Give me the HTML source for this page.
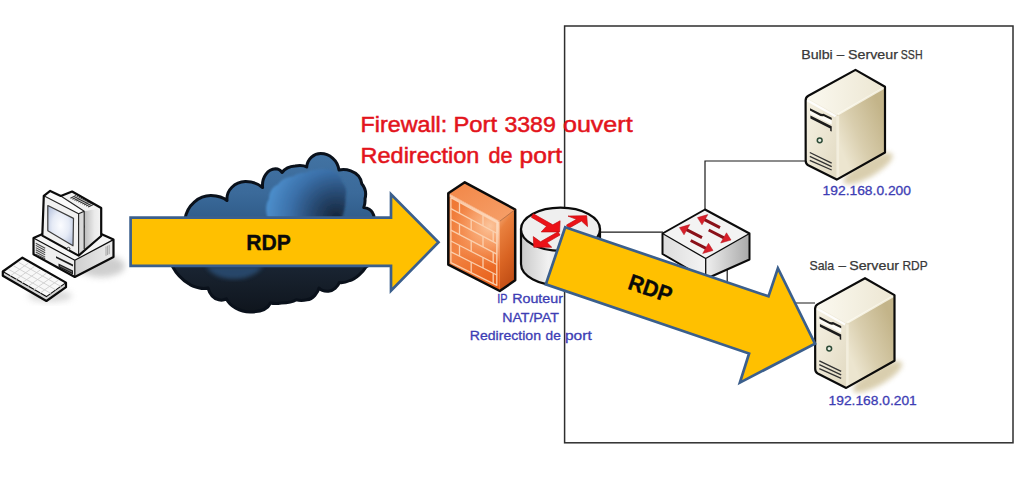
<!DOCTYPE html>
<html>
<head>
<meta charset="utf-8">
<title>RDP - Redirection de port</title>
<style>
  html, body { margin: 0; padding: 0; background: #ffffff; }
  body { width: 1022px; height: 494px; overflow: hidden; font-family: "Liberation Sans", sans-serif; }
  svg { display: block; }
  text { font-family: "Liberation Sans", sans-serif; }
</style>
</head>
<body>
<svg width="1022" height="494" viewBox="0 0 1022 494">
  <defs>
    <!-- cloud -->
    <linearGradient id="gCloud" gradientUnits="userSpaceOnUse" x1="0" y1="153" x2="0" y2="312">
      <stop offset="0" stop-color="#4273a3"/>
      <stop offset="0.25" stop-color="#3b6a9a"/>
      <stop offset="0.41" stop-color="#305d8b"/>
      <stop offset="0.70" stop-color="#1a2533"/>
      <stop offset="1" stop-color="#0f151d"/>
    </linearGradient>
    <radialGradient id="gCloudHi" gradientUnits="userSpaceOnUse" cx="336" cy="217" r="74">
      <stop offset="0" stop-color="#16263c"/>
      <stop offset="0.3" stop-color="#26476e"/>
      <stop offset="0.62" stop-color="#3a6fa8"/>
      <stop offset="1" stop-color="#5094d2"/>
    </radialGradient>
    <filter id="blur1" x="-20%" y="-20%" width="140%" height="140%"><feGaussianBlur stdDeviation="0.9"/></filter>
    <filter id="blur25" x="-30%" y="-60%" width="160%" height="220%"><feGaussianBlur stdDeviation="2.5"/></filter>
    <filter id="blur2" x="-20%" y="-20%" width="140%" height="140%"><feGaussianBlur stdDeviation="2"/></filter>
    <filter id="blur3" x="-30%" y="-30%" width="160%" height="160%"><feGaussianBlur stdDeviation="3"/></filter>
    <filter id="blur5" x="-30%" y="-30%" width="160%" height="160%"><feGaussianBlur stdDeviation="4.5"/></filter>

    <!-- firewall -->
    <linearGradient id="gFwFront" gradientUnits="userSpaceOnUse" x1="447" y1="200" x2="499" y2="285">
      <stop offset="0" stop-color="#ef7733"/>
      <stop offset="0.5" stop-color="#f28444"/>
      <stop offset="1" stop-color="#e75d16"/>
    </linearGradient>
    <radialGradient id="gFwGlow" gradientUnits="userSpaceOnUse" cx="490" cy="226" r="40">
      <stop offset="0" stop-color="#fdd0ab" stop-opacity="0.85"/>
      <stop offset="0.5" stop-color="#fbb585" stop-opacity="0.55"/>
      <stop offset="1" stop-color="#f79a62" stop-opacity="0"/>
    </radialGradient>
    <linearGradient id="gFwEdge" gradientUnits="userSpaceOnUse" x1="0" y1="221" x2="0" y2="264">
      <stop offset="0" stop-color="#fde0c8" stop-opacity="0.8"/>
      <stop offset="1" stop-color="#fde0c8" stop-opacity="0"/>
    </linearGradient>
    <linearGradient id="gFwTop" x1="0" y1="0" x2="1" y2="1">
      <stop offset="0" stop-color="#f28646"/>
      <stop offset="1" stop-color="#f6a06a"/>
    </linearGradient>
    <linearGradient id="gFwSide" x1="0" y1="0" x2="0.25" y2="1">
      <stop offset="0" stop-color="#f7b283"/>
      <stop offset="0.25" stop-color="#e9803e"/>
      <stop offset="0.65" stop-color="#d96423"/>
      <stop offset="1" stop-color="#c24f16"/>
    </linearGradient>

    <!-- router / switch -->
    <linearGradient id="gCyl" x1="0" y1="0" x2="1" y2="0">
      <stop offset="0" stop-color="#c9c9c9"/>
      <stop offset="0.35" stop-color="#f2f2f2"/>
      <stop offset="1" stop-color="#b5b5b5"/>
    </linearGradient>
    <linearGradient id="gSwL" x1="0" y1="0" x2="1" y2="0">
      <stop offset="0" stop-color="#dcdcdc"/>
      <stop offset="1" stop-color="#f4f4f4"/>
    </linearGradient>
    <linearGradient id="gSwR" x1="0" y1="0" x2="1" y2="0">
      <stop offset="0" stop-color="#efefef"/>
      <stop offset="1" stop-color="#a9a9a9"/>
    </linearGradient>

    <!-- server -->
    <linearGradient id="gSrvFront" x1="0" y1="0" x2="1" y2="1">
      <stop offset="0" stop-color="#f6f2e4"/>
      <stop offset="1" stop-color="#e2dac2"/>
    </linearGradient>
    <linearGradient id="gSrvSide" gradientUnits="userSpaceOnUse" x1="838" y1="142" x2="886" y2="122">
      <stop offset="0" stop-color="#ece5cf"/>
      <stop offset="0.4" stop-color="#d9ceae"/>
      <stop offset="1" stop-color="#c3b489"/>
    </linearGradient>
    <linearGradient id="gSrvTop" x1="0" y1="0" x2="1" y2="0">
      <stop offset="0" stop-color="#fbf9f0"/>
      <stop offset="1" stop-color="#ece6d2"/>
    </linearGradient>

    <linearGradient id="gBaseR" x1="0" y1="0" x2="1" y2="0">
      <stop offset="0" stop-color="#cfcfcf"/>
      <stop offset="1" stop-color="#ececec"/>
    </linearGradient>
    <linearGradient id="gMonR" x1="0" y1="0" x2="1" y2="0">
      <stop offset="0" stop-color="#bcbcbc"/>
      <stop offset="0.6" stop-color="#eaeaea"/>
      <stop offset="1" stop-color="#f4f4f4"/>
    </linearGradient>
    <!-- monitor screen -->
    <radialGradient id="gScreen" cx="0.5" cy="0.5" r="0.65">
      <stop offset="0" stop-color="#fbfcff"/>
      <stop offset="0.5" stop-color="#e6ebf6"/>
      <stop offset="1" stop-color="#b3c0dc"/>
    </radialGradient>

    <!-- server symbol (coordinates of server 1) -->
    <g id="server">
      <ellipse cx="868" cy="168.5" rx="28" ry="8.5" transform="rotate(-30 868 168.5)" fill="#d3c6a0" opacity="0.85" filter="url(#blur25)"/>
      <polygon points="805.6,97.4 855.5,69.9 885,86.8 836.7,114.8" fill="url(#gSrvTop)"/>
      <polygon points="836.7,114.8 885,86.8 885,152.5 836.7,179.6" fill="url(#gSrvSide)"/>
      <path d="M805.6,100.5 Q805.6,96.8 809,99 L836.7,114.8 L836.7,179.6 L808.2,165.2 Q805.7,163.8 805.7,160.8 Z" fill="url(#gSrvFront)"/>
      <!-- bevel highlights -->
      <path d="M807.2,100.2 L835.6,116.2" stroke="#ffffff" stroke-width="2.4" fill="none" opacity="0.9"/>
      <path d="M837.6,114.6 L884,87.8" stroke="#fffdf4" stroke-width="2" fill="none" opacity="0.75"/>
      <path d="M838,116 L838,178" stroke="#f7f2e2" stroke-width="2.4" fill="none" opacity="0.7"/>
      <!-- drive slots -->
      <path d="M810,108.3 L818.5,112.6 Q821,114.4 823.5,113.8 L831.7,117.8 L831.7,120 L823.8,116.2 Q821,116.8 818.5,115 L810,110.5 Z" fill="#1c1c1c"/>
      <path d="M810,110.9 L818.5,115.4 Q821,117.2 823.8,116.6 L831.7,120.4 L831.7,124.4 L810,113.8 Z" fill="#fefdf9"/>
      <path d="M810.4,115.6 L831.7,126.2 L831.7,131.6 L830.2,130.9 L830.2,128.4 L810.4,118.4 Z" fill="#1c1c1c"/>
      <!-- button -->
      <circle cx="819.7" cy="140.3" r="2.4" fill="#e9efe4" stroke="#2c4a36" stroke-width="1.5"/>
      <!-- vents -->
      <path d="M809.8,152.5 L831.7,163.1 M809.8,156.4 L831.7,166.6 M809.8,160.3 L831.7,170" stroke="#333" stroke-width="1.35" fill="none"/>
      <!-- outline -->
      <path d="M805.6,100.5 Q805.6,97.4 808.4,95.8 L855.5,69.9 L885,86.8 L885,152.5 L836.7,179.6 L808.2,165.2 Q805.7,163.8 805.7,160.8 Z" fill="none" stroke="#0b0b0b" stroke-width="2.2" stroke-linejoin="round"/>
    </g>
  </defs>

  <rect x="0" y="0" width="1022" height="494" fill="#ffffff"/>

  <!-- LAN box -->
  <rect x="564.6" y="26" width="448.4" height="416.8" fill="none" stroke="#2e2e2e" stroke-width="1.5"/>

  <!-- connection lines -->
  <g fill="none" stroke="#1a1a1a" stroke-width="1.2">
    <path d="M598,232.2 L663,232.2"/>
    <path d="M705,210 L705,161 L806,161"/>
    <path d="M727.2,266 L727.2,303 L815,303"/>
  </g>

  <!-- ============ CLOUD ============ -->
  <g id="cloud">
    <path id="cloudShape" d="M185,219
      C187,205 199,195.5 211,195.6 C219,196 224,198 227,200.5
      C226,190 235,182 245.3,181.6 C252,181.5 258,183.5 262.6,187.5
      C261.5,177 268,169 275.5,168.7 C278.5,168.7 280.5,170 282,172.5
      C285,168.5 290,166.3 295,166 C300,165.3 304,165.5 306.7,167
      C307.5,158.5 314,153.6 320.7,153.6 C329.5,153.6 337.5,160 339,170
      C343,169 347,169.5 350.8,170.8 C357,173 361,178 361.8,183.8 C365.3,188 366.3,194 365,198.8 C365.3,202 364.7,205 363.8,207.6
      C368,208.2 371,210 372.6,212.8 C373.8,214.5 374.2,216.5 374,219
      L374,262 L366,267
      C363,272 355.5,279.2 350,280.5 C346,282.3 342,283.2 339.4,282.6
      C338,286.5 333,291 328.6,291.2 C324,291.6 321,290.3 319,288
      C318,292.5 313,299.2 307,299.8 C303,300.7 299,300.6 296.3,299.8
      C294,301.3 288,303 281.3,303 C277,303.7 273,303.6 270.5,303
      C268,308.3 262,312 250,312 C240,312 230,306.2 226.4,298.8
      C224,300.2 221,300.4 218.8,299.8 C214,298.8 210,295 208,288
      C205,288.7 202,288.6 199.4,288 C194,287 190.5,285.3 188.7,283.7 C182.5,280 176,273 172.5,266.5
      L172.5,262 Z"
      fill="url(#gCloud)" stroke="#0a111b" stroke-width="3" stroke-linejoin="round"/>
    <!-- lighter inner puff -->
    <path d="M268,219 C265,210 266,203 269,199 C269,192 273,186 278,184.5 C281,179.5 288,176.5 293,176.5 C297,173.5 302,172.5 306,172.5 C312,169.5 322,168.5 330,170 C337,172 341,177 342,182 C346,186 347,192 345.5,197 C346,205 344,213 341.5,219 Z"
      fill="url(#gCloudHi)" filter="url(#blur1)"/>
    <!-- blue glow just under the arrow -->
    <path d="M206,266 C210,274 222,279.5 234,279 C246,279.5 258,274 263,266 Z" fill="#2d5782" opacity="0.7" filter="url(#blur2)"/>
  </g>

  <!-- ============ COMPUTER ============ -->
  <g id="pc" stroke-linejoin="round">
    <!-- shadows -->
    <ellipse cx="101" cy="266" rx="24" ry="11" fill="#c6c6c6" opacity="0.85" filter="url(#blur3)"/>
    <ellipse cx="50" cy="296" rx="22" ry="6" fill="#d0d0d0" opacity="0.8" filter="url(#blur3)"/>
    <!-- CPU base -->
    <polygon points="33.5,238 72,221 113.5,239.6 74.8,260.3" fill="#f6f6f6"/>
    <polygon points="33.5,238 74.8,260.3 74.8,277 33.5,254.2" fill="#eeeeee"/>
    <polygon points="74.8,260.3 113.5,239.6 113.5,257 74.8,277" fill="url(#gBaseR)"/>
    <path d="M33.5,238 L72,221 L113.5,239.6 L113.5,257 L74.8,277 L33.5,254.2 Z" fill="none" stroke="#0b0b0b" stroke-width="2.2"/>
    <path d="M33.5,238 L74.8,260.3 L113.5,239.6 M74.8,260.3 L74.8,277" fill="none" stroke="#0b0b0b" stroke-width="1.2"/>
    <!-- base vents (left) -->
    <path d="M35.8,243.2 L45.2,248.3 M35.8,245.4 L45.2,250.5 M35.8,247.6 L45.2,252.7 M35.8,249.8 L45.2,254.9 M35.8,252 L45.2,257.1 M35.8,254.2 L45.2,258.8" stroke="#4a4a4a" stroke-width="1.05" fill="none"/>
    <!-- drive slots -->
    <polygon points="56,256.3 73,264.6 73,266.4 56,258.1" fill="#1d1d1d"/>
    <polygon points="58.5,263.4 73,270.6 73,274.4 58.5,267.2" fill="#1d1d1d"/>
    <path d="M60,266 L72,272" stroke="#8a8a8a" stroke-width="0.8"/>
    <!-- right vents -->
    <path d="M106,246.5 L106,255.8 M107.6,245.7 L107.6,255 M109.2,244.9 L109.2,254.2" stroke="#9c9c9c" stroke-width="0.9" fill="none"/>

    <!-- monitor: rear box -->
    <polygon points="60.8,196 72.1,191.5 101.2,208 84.2,211.3" fill="#f2f2f2"/>
    <polygon points="84.2,211.3 101.2,208 101.2,236 84.2,250" fill="url(#gMonR)"/>
    <!-- bezel -->
    <polygon points="43.8,195.8 50.2,190.9 60.8,196 84.2,211.3 78.6,213.8" fill="#fafafa"/>
    <polygon points="78.6,213.8 84.2,211.3 84.2,250 78.6,255.6" fill="#d9d9d9"/>
    <polygon points="43.8,195.8 78.6,213.8 78.6,255.6 42.3,235.6" fill="#f1f1f1"/>
    <polygon points="47.8,205.5 73.5,218.4 73,245.8 47.8,230.8" fill="url(#gScreen)" stroke="#3c3c3c" stroke-width="1.2"/>
    <!-- top vents -->
    <g stroke="#303030" stroke-width="1.15" fill="none">
      <path d="M70.4,198.2 L76.0,195.5 M72.4,199.2 L78.0,196.5 M74.4,200.2 L80.0,197.5 M76.3,201.1 L81.9,198.4 M78.3,202.1 L83.9,199.4 M80.3,203.1 L85.9,200.4 M82.3,204.1 L87.9,201.4 M84.2,205.0 L89.8,202.3 M86.2,206.0 L91.8,203.3 M88.2,207.0 L93.8,204.3"/>
    </g>
    <path d="M43.8,195.8 L50.2,190.9 L60.8,196 L72.1,191.5 L101.2,208 L101.2,236 L78.6,255.6 L42.3,235.6 Z" fill="none" stroke="#0b0b0b" stroke-width="2.2"/>
    <path d="M43.8,195.8 L78.6,213.8 L78.6,255.6 M78.6,213.8 L84.2,211.3 L60.8,196 M84.2,211.3 L84.2,249" fill="none" stroke="#0b0b0b" stroke-width="1.1" opacity="0.9"/>
    <circle cx="68.5" cy="248.7" r="1.4" fill="#fff" stroke="#2a2a2a" stroke-width="0.9"/>

    <!-- keyboard -->
    <polygon points="2.8,271.5 22.4,257.7 66,282.6 46.4,296.6" fill="#f8f8f8"/>
    <polygon points="2.8,271.5 46.4,296.6 66,282.6 66,287.2 46.4,301 2.8,275.8" fill="#d6d6d6"/>
    <path d="M2.8,271.5 L22.4,257.7 L66,282.6 L66,287.2 L46.4,301 L2.8,275.8 Z" fill="none" stroke="#0b0b0b" stroke-width="2.2"/>
    <path d="M2.8,271.5 L46.4,296.6 L66,282.6" fill="none" stroke="#0b0b0b" stroke-width="1.1"/>
    <g stroke="#cfcfcf" stroke-width="0.9" fill="none">
      <path d="M8.5,269.3 L51,293.5 M13.5,265.8 L56,290 M18.5,262.3 L61,286.5"/>
      <path d="M28.5,263 L9.5,276.5 M34.5,266.4 L15.5,279.9 M40.5,269.8 L21.5,283.3 M46.5,273.2 L27.5,286.7 M52.5,276.6 L33.5,290.1 M58.5,280 L39.5,293.5"/>
    </g>
  </g>

  <!-- ============ FIREWALL ============ -->
  <g id="firewall" stroke-linejoin="round">
    <polygon points="448.3,193.2 464.8,182.3 515.2,209.5 499.8,221.2" fill="url(#gFwTop)"/>
    <polygon points="499.8,221.2 515.2,209.5 515.2,280.3 499.8,291" fill="url(#gFwSide)"/>
    <polygon points="448.3,193.2 499.8,221.2 499.8,291 448.3,264.6" fill="url(#gFwFront)"/>
    <polygon points="448.3,193.2 499.8,221.2 499.8,291 448.3,264.6" fill="url(#gFwGlow)"/>
    <!-- brick mortar -->
    <g stroke="#fcd3b2" stroke-width="1.3" fill="none" opacity="0.95">
      <path d="M450.9,197.8 L496.8,222.7 L496.8,285.4 L450.9,262.7 Z"/>
      <path d="M450.9,208.6 L496.8,233.2 M450.9,219.4 L496.8,243.6 M450.9,230.2 L496.8,254.1 M450.9,241.0 L496.8,264.5 M450.9,251.8 L496.8,275.0"/>
      <path d="M459.5,202.5 L459.5,213.2 M483.0,215.2 L483.0,225.8 M471.2,219.5 L471.2,230.2 M493.2,231.3 L493.2,241.7 M459.5,224.0 L459.5,234.7 M483.0,236.4 L483.0,246.9 M471.2,240.8 L471.2,251.5 M493.2,252.2 L493.2,262.7 M459.5,245.5 L459.5,256.2 M483.0,257.5 L483.0,268.0 M471.2,262.1 L471.2,272.8 M493.2,273.2 L493.2,283.7"/>
    </g>
    <!-- bevel highlights -->
    <path d="M449.3,195.2 L497.8,221.9" stroke="#fde0c8" stroke-width="2.2" fill="none" opacity="0.75"/>
    <path d="M497.8,221.9 L497.8,261.5" stroke="url(#gFwEdge)" stroke-width="2.2" fill="none"/>
    <path d="M448.3,193.2 L464.8,182.3 L515.2,209.5 L515.2,280.3 L499.8,291 L448.3,264.6 Z" fill="none" stroke="#0b0b0b" stroke-width="2.5"/>
    <path d="M499.8,221.2 L515.2,209.5" fill="none" stroke="#8a3c10" stroke-width="0.9" opacity="0.6"/>
  </g>

  <!-- ============ ROUTER ============ -->
  <g id="router">
    <path d="M521,229.5 L521,264 A39.5,21.5 0 0 0 600,264 L600,229.5 Z" fill="url(#gCyl)" stroke="#0b0b0b" stroke-width="2.2"/>
    <ellipse cx="560.5" cy="229.3" rx="39.5" ry="21.6" fill="#efefef" stroke="#0b0b0b" stroke-width="2.2"/>
    <g fill="#ec1218" stroke="#c20e13" stroke-width="0.7" stroke-linejoin="round">
      <!-- top-left arrow pointing to centre -->
      <polygon points="533.3,213.8 531.3,217.2 546.5,226.2 541.2,231.9 559.6,231.9 560.1,220.8 552.8,224.8"/>
      <!-- arrow pointing up-right -->
      <polygon points="566.5,225 568.5,228.4 581.5,221 587.5,226.6 586.7,215.7 568,216.1 576.5,219.3"/>
      <!-- arrow pointing down-left -->
      <polygon points="558,231.8 560,235 547,242.6 551.7,247.2 533.8,247.2 533.3,236.6 540.5,241.8"/>
    </g>
  </g>

  <!-- ============ SWITCH ============ -->
  <g id="switch" stroke-linejoin="round">
    <polygon points="662.5,233.5 705,209.5 749.5,233.5 705.7,258.5" fill="#f3f3f3"/>
    <polygon points="662.5,233.5 705.7,258.5 705.7,279 662.5,254" fill="url(#gSwL)"/>
    <polygon points="705.7,258.5 749.5,233.5 749.5,259.5 705.7,279" fill="url(#gSwR)"/>
    <path d="M662.5,233.5 L705,209.5 L749.5,233.5 L749.5,259.5 L705.7,279 L662.5,254 Z" fill="none" stroke="#0b0b0b" stroke-width="2"/>
    <path d="M662.5,233.5 L705.7,258.5 L749.5,233.5 M705.7,258.5 L705.7,279" fill="none" stroke="#0b0b0b" stroke-width="1.3"/>
    <g stroke="#8a1119" stroke-width="3" fill="none">
      <path d="M704.5,219.7 L720,227.7 M686.5,229.7 L702,237.7 M724,237.8 L708.7,230 M706,248.3 L690.7,240.5"/>
    </g>
    <g fill="#d81f2a" stroke="#b0141d" stroke-width="0.5" stroke-linejoin="round">
      <polygon points="697.5,217.6 707.8,214.6 702,224.8"/>
      <polygon points="679.5,227.6 689.8,224.6 684,234.8"/>
      <polygon points="731,240 720.7,243 726.5,232.8"/>
      <polygon points="713,250.5 702.7,253.5 708.5,243.3"/>
    </g>
  </g>

  <!-- ============ SERVERS ============ -->
  <use href="#server"/>
  <use href="#server" transform="translate(9.5,208.3)"/>

  <!-- ============ ARROW 1 ============ -->
  <polygon points="130.6,217.7 391,217.7 391,194.3 438.5,242.3 391,290.6 391,265.9 130.6,265.9"
           fill="#ffc000" stroke="#3b5f8c" stroke-width="2.7" stroke-linejoin="miter"/>
  <text x="246.3" y="249.9" font-size="22.6" font-weight="bold" fill="#0a0a0a" stroke="#0a0a0a" stroke-width="0.35" textLength="44.6" lengthAdjust="spacingAndGlyphs">RDP</text>

  <!-- ============ ARROW 2 ============ -->
  <polygon points="565.2,227.2 768.5,296.4 777.9,268.2 815,343.6 739.9,382.6 749.1,353.5 545.8,284.3"
           fill="#ffc000" stroke="#3b5f8c" stroke-width="2.7" stroke-linejoin="miter"/>
  <text transform="translate(626.8,288.6) rotate(18.7)" x="0" y="0" font-size="22.6" font-weight="bold" fill="#0a0a0a" stroke="#0a0a0a" stroke-width="0.35" textLength="44.6" lengthAdjust="spacingAndGlyphs">RDP</text>

  <!-- ============ TEXT ============ -->
  <g id="tRed" fill="#e3141c" stroke="#e3141c" stroke-width="0.5" font-size="21.4">
    <text x="360.6" y="132.3" textLength="86.6" lengthAdjust="spacingAndGlyphs">Firewall:</text>
    <text x="453.4" y="132.3" textLength="43.6" lengthAdjust="spacingAndGlyphs">Port</text>
    <text x="504.4" y="132.3" textLength="51.4" lengthAdjust="spacingAndGlyphs">3389</text>
    <text x="563" y="132.3" textLength="69.6" lengthAdjust="spacingAndGlyphs">ouvert</text>
    <text x="360.6" y="163.1" textLength="118.7" lengthAdjust="spacingAndGlyphs">Redirection</text>
    <text x="488.4" y="163.1" textLength="24.0" lengthAdjust="spacingAndGlyphs">de</text>
    <text x="519.6" y="163.1" textLength="42.4" lengthAdjust="spacingAndGlyphs">port</text>
  </g>
  <g id="tBlue" fill="#3d3db4" stroke="#3d3db4" stroke-width="0.3" font-size="12.5">
    <text x="497.2" y="303.3" textLength="10.3" lengthAdjust="spacingAndGlyphs">IP</text>
    <text x="512.2" y="303.3" textLength="50.8" lengthAdjust="spacingAndGlyphs">Routeur</text>
    <text x="502.2" y="321.5" textLength="56.6" lengthAdjust="spacingAndGlyphs">NAT/PAT</text>
    <text x="469.8" y="340" textLength="71.2" lengthAdjust="spacingAndGlyphs">Redirection</text>
    <text x="545.6" y="340" textLength="15.2" lengthAdjust="spacingAndGlyphs">de</text>
    <text x="565" y="340" textLength="26.7" lengthAdjust="spacingAndGlyphs">port</text>
  </g>
  <g id="tTitle" fill="#383838" stroke="#383838" stroke-width="0.25" font-size="12.9">
    <text x="801.2" y="58.5" textLength="31.6" lengthAdjust="spacingAndGlyphs">Bulbi</text>
    <text x="836.8" y="58.5" textLength="7.5" lengthAdjust="spacingAndGlyphs">–</text>
    <text x="848" y="58.5" textLength="49.9" lengthAdjust="spacingAndGlyphs">Serveur</text>
    <text x="900.8" y="58.5" textLength="21.8" lengthAdjust="spacingAndGlyphs">SSH</text>
    <text x="809.5" y="269.9" textLength="24.7" lengthAdjust="spacingAndGlyphs">Sala</text>
    <text x="838.4" y="269.9" textLength="7.5" lengthAdjust="spacingAndGlyphs">–</text>
    <text x="849.2" y="269.9" textLength="49.9" lengthAdjust="spacingAndGlyphs">Serveur</text>
    <text x="902.4" y="269.9" textLength="25.2" lengthAdjust="spacingAndGlyphs">RDP</text>
  </g>
  <g id="tIP" fill="#3d3db4" stroke="#3d3db4" stroke-width="0.3" font-size="13">
    <text x="822.6" y="195" textLength="88.4" lengthAdjust="spacingAndGlyphs">192.168.0.200</text>
    <text x="828.6" y="404.9" textLength="88.2" lengthAdjust="spacingAndGlyphs">192.168.0.201</text>
  </g>
</svg>
</body>
</html>
